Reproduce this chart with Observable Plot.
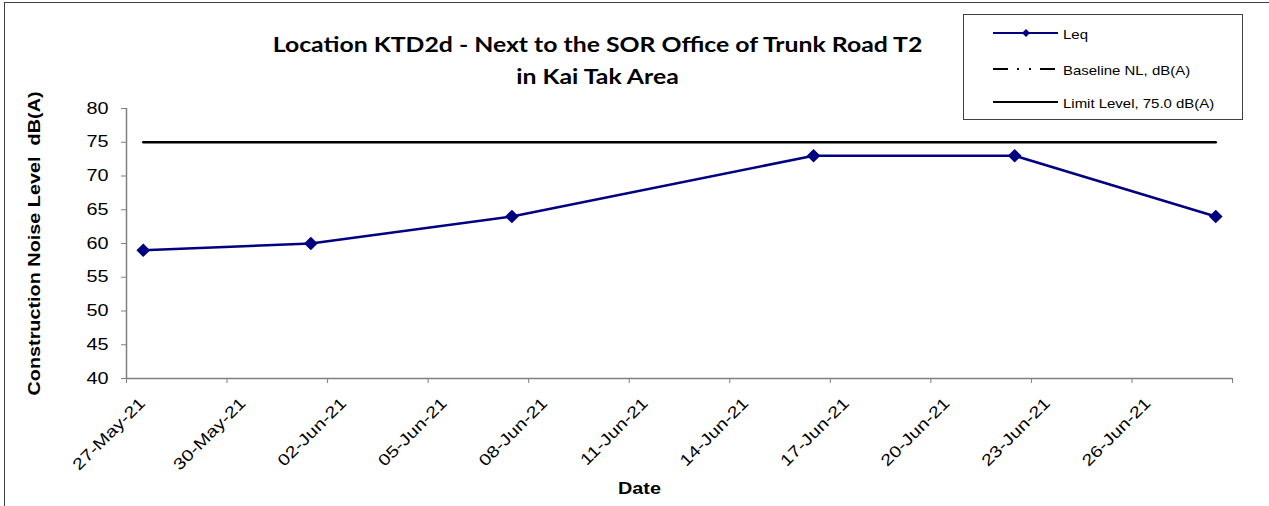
<!DOCTYPE html>
<html><head><meta charset="utf-8">
<script src="https://cdn.jsdelivr.net/npm/d3@7"></script>
<script src="https://cdn.jsdelivr.net/npm/@observablehq/plot@0.6"></script>
<style>
body{margin:0;background:#fff;font-family:"Liberation Sans",Arial,sans-serif;}
#wrap{position:relative;width:1269px;height:506px;overflow:hidden;background:#fff;}
#frame{position:absolute;left:4px;top:2px;width:1400px;height:600px;border-left:1px solid #404040;border-top:1px solid #404040;}
#chart{position:absolute;left:0;top:0;}
#legend{position:absolute;left:963px;top:14px;width:280px;height:106px;border:1px solid #404040;box-sizing:border-box;background:#fff;}
.item{position:absolute;left:0;width:278px;height:20px;}
.item svg{position:absolute;left:29px;top:0;}
.item span{position:absolute;left:99px;top:2px;font-size:13px;line-height:16px;color:#000;white-space:nowrap;transform:scaleX(1.15);transform-origin:0 50%;}
</style>
</head><body>
<div id="wrap"><div id="frame"></div><div id="chart"></div><div id="legend"></div></div>
<script>
const dates = ["2021-05-27","2021-06-01","2021-06-07","2021-06-16","2021-06-22","2021-06-28"];
const leqValues = [59,60,64,73,73,64];
const limitValues = [75,75,75,75,75,75];
const yTicks = [40,45,50,55,60,65,70,75,80];
const xTickDates = ["2021-05-27","2021-05-30","2021-06-02","2021-06-05","2021-06-08","2021-06-11","2021-06-14","2021-06-17","2021-06-20","2021-06-23","2021-06-26","2021-06-29"];
const xDomain = ["2021-05-27","2021-06-29"];
const seriesNames = ["Leq","Baseline NL, dB(A)","Limit Level, 75.0 dB(A)"];
const titleLines = ["Location KTD2d - Next to the SOR Office of Trunk Road T2","in Kai Tak Area"];
const yLabel = "Construction Noise Level  dB(A)";
const xLabel = "Date";

const parse = d3.utcParse("%Y-%m-%d");
const data = dates.map((d,i)=>({date: parse(d), leq: leqValues[i], limit: limitValues[i]}));
const mid = d => d3.utcHour.offset(d.date, 12);
const fmt = d3.utcFormat("%d-%b-%y");
const end = parse(xDomain[1]);
const FONT = "'Liberation Sans', Arial, sans-serif";

const chart = Plot.plot({
  width:1269, height:506, marginLeft:126, marginRight:37, marginTop:108, marginBottom:128,
  style:{fontFamily:FONT, fontSize:"16px", color:"#000", background:"transparent", overflow:"visible"},
  x:{type:"utc", domain:xDomain.map(parse)},
  y:{domain:[40,80]},
  marks:[
    Plot.ruleY([40], {stroke:"#808080", strokeWidth:1.5}),
    Plot.ruleX([parse(xDomain[0])], {stroke:"#808080", strokeWidth:1.5}),
    Plot.axisY({ticks:yTicks, tickSize:5, tickPadding:13, label:null, stroke:"#808080", fill:"#000", fontSize:16}),
    Plot.axisX({ticks:xTickDates.map(parse), tickSize:5, tickFormat:() => "", label:null, stroke:"#808080"}),
    Plot.axisX({ticks:xTickDates.map(parse), tickSize:0, tickPadding:22, tickRotate:-45, dx:16,
      tickFormat:d => +d === +end ? "" : fmt(d), label:null, fill:"#000", fontSize:16}),
    Plot.line(data,{x:mid, y:"limit", stroke:"#000", strokeWidth:2.5}),
    Plot.line(data,{x:mid, y:"leq", stroke:"#000080", strokeWidth:2.5}),
    Plot.dot(data,{x:mid, y:"leq", symbol:"diamond2", r:5.2, fill:"#000080", stroke:"#000080"}),
    Plot.text([yLabel], {text:d=>d, frameAnchor:"left", textAnchor:"middle", lineAnchor:"middle", rotate:-90, dx:-92, fontWeight:"bold", fontSize:16}),
    Plot.text([xLabel], {text:d=>d, frameAnchor:"bottom", textAnchor:"middle", lineAnchor:"middle", dx:-40, dy:110, fontWeight:"bold", fontSize:16}),
    Plot.text([titleLines[0]], {text:d=>d, frameAnchor:"top", textAnchor:"middle", lineAnchor:"middle", dx:-82, dy:-63, fontWeight:"bold", fontSize:20, fontFamily:"Lato, sans-serif"}),
    Plot.text([titleLines[1]], {text:d=>d, frameAnchor:"top", textAnchor:"middle", lineAnchor:"middle", dx:-82, dy:-31, fontWeight:"bold", fontSize:20, fontFamily:"Lato, sans-serif"})
  ]
});
// widen glyphs along their own direction, as in the reference rendering
const S = 1.24;
chart.querySelectorAll("text").forEach(t => {
  const xa = t.getAttribute("x");
  const tr = t.getAttribute("transform") || "";
  let shift = "";
  if (xa !== null && /^-?[\d.]+$/.test(xa)) { shift = ` translate(${xa},0)`; t.removeAttribute("x"); }
  t.setAttribute("transform", `${tr}${shift} scale(${S},1)`.trim());
});
document.getElementById("chart").appendChild(chart);

const legendRows = [
  {name:seriesNames[0], top:10, svg:'<svg width="70" height="16"><line x1="0" y1="8" x2="65" y2="8" stroke="#000080" stroke-width="2"/><path d="M33,4 L37,8 L33,12 L29,8 Z" fill="#000080"/></svg>'},
  {name:seriesNames[1], top:46, svg:'<svg width="70" height="16"><line x1="0" y1="8" x2="65" y2="8" stroke="#000" stroke-width="2" stroke-dasharray="15,9,2,10,2,9"/></svg>'},
  {name:seriesNames[2], top:79, svg:'<svg width="70" height="16"><line x1="0" y1="8" x2="65" y2="8" stroke="#000" stroke-width="2"/></svg>'}
];
const lg = document.getElementById("legend");
legendRows.forEach(r=>{
  const div = document.createElement("div");
  div.className="item"; div.style.top = r.top+"px";
  div.innerHTML = r.svg + '<span>'+r.name+'</span>';
  lg.appendChild(div);
});
</script>
</body></html>
